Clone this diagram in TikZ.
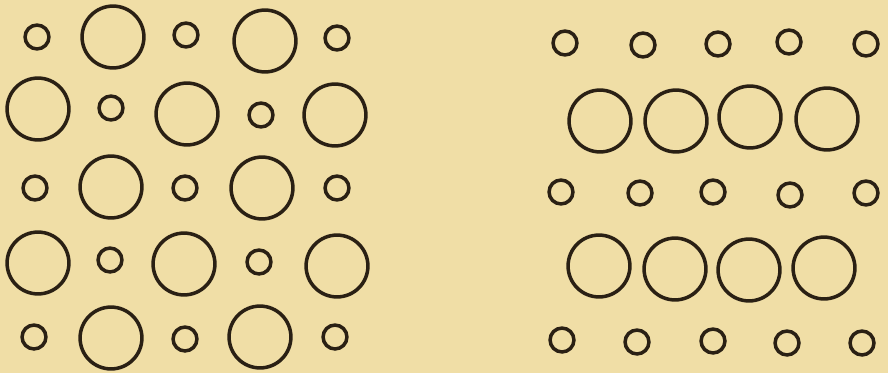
\documentclass[tikz,border=0pt]{standalone}
\usepackage{tikz}

\definecolor{paper}{RGB}{240,222,166}
\definecolor{ink}{RGB}{42,32,20}

\begin{document}
\begin{tikzpicture}[x=0.02cm, y=-0.02cm, line width=2pt]
  \fill[paper] (0,0) rectangle (888,373);
  % left pattern: small and large rings alternate
  \foreach \x/\y in {37/37, 186/35, 337/38, 111/108, 261/115, 35/188, 185/188, 337/188,
                     110/260, 259/262, 34/337, 185/339, 335/337} {
    \draw[ink] (\x,\y) circle[radius=6.8pt];
  }
  \foreach \x/\y in {113/37, 265/41, 38/109, 187/114, 335/115, 111/187, 262/188,
                     38/263, 184/264, 337/266, 111/338, 260/337} {
    \draw[ink] (\x,\y) circle[radius=17.6pt];
  }
  % right pattern: rows of small rings, rows of large rings
  \foreach \x/\y in {565/43, 643/45, 718/44, 789/42, 866/44,
                     561/192, 640/193, 713/192, 790/195, 866/193,
                     562/340, 637/342, 713/341, 787/343, 862/343} {
    \draw[ink] (\x,\y) circle[radius=6.8pt];
  }
  \foreach \x/\y in {600/121, 676/121, 750/117, 827/119, 599/266, 675/269, 749/270, 824/268} {
    \draw[ink] (\x,\y) circle[radius=17.6pt];
  }
\end{tikzpicture}
\end{document}
